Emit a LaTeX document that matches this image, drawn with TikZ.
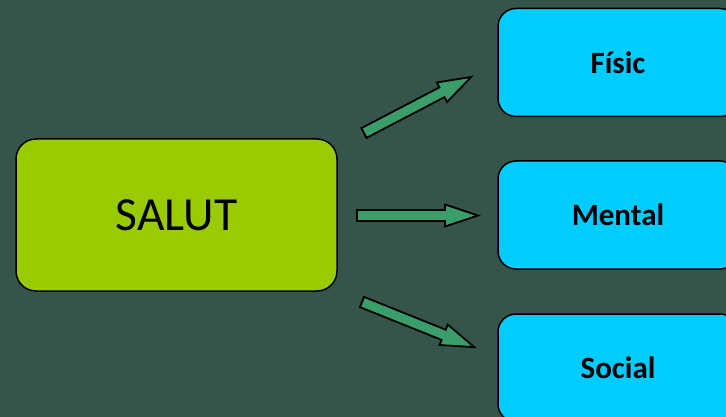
\documentclass[tikz,border=0pt]{standalone}
\usepackage{fontspec}
\setmainfont{Carlito}
\definecolor{bg}{HTML}{35544A}
\definecolor{salutgreen}{HTML}{99CC00}
\definecolor{cyanbox}{HTML}{00CCFF}
\definecolor{arrowgreen}{HTML}{3A9E6A}
\tikzset{
  mainbox/.style={draw=black, line width=1.5pt, fill=salutgreen, rounded corners=20pt,
    minimum width=321pt, minimum height=152pt, inner sep=0pt,
    font=\fontsize{47.5}{54}\selectfont},
  subbox/.style={draw=black, line width=1.5pt, fill=cyanbox, rounded corners=18pt,
    minimum width=240pt, minimum height=108pt, inner sep=0pt,
    font=\fontsize{31}{36}\selectfont\bfseries},
  blockarrow/.style={draw=black, line width=1.8pt, fill=arrowgreen, line join=miter}
}
\newcommand{\blockarr}[4]{%
  \begin{scope}[shift={(#1,#2)}, rotate=#3]
    \coordinate (#4tail) at (0,0);
    \coordinate (#4tip) at (121,0);
    \draw[blockarrow] (#4tail) ++(0,-5.5) -- (88,-5.5) -- (88,-11) -- (#4tip) -- (88,11) -- (88,5.5) -- (0,5.5) -- cycle;
  \end{scope}}
\begin{document}
\begin{tikzpicture}[x=1pt,y=-1pt]
\fill[bg] (0,0) rectangle (726,417);
\useasboundingbox (0,0) rectangle (726,417);
\clip (0,0) rectangle (726,417);
\node[mainbox] (salut) at (176.5,215) {SALUT};
\node[subbox] (fisic) at (618,62.5) {Físic};
\node[subbox] (mental) at (618,215) {Mental};
\node[subbox] (social) at (618,368) {Social};
\blockarr{364}{133}{27.6}{a}
\blockarr{357}{215.5}{0}{b}
\blockarr{362}{302}{-21.9}{c}
\end{tikzpicture}
\end{document}
